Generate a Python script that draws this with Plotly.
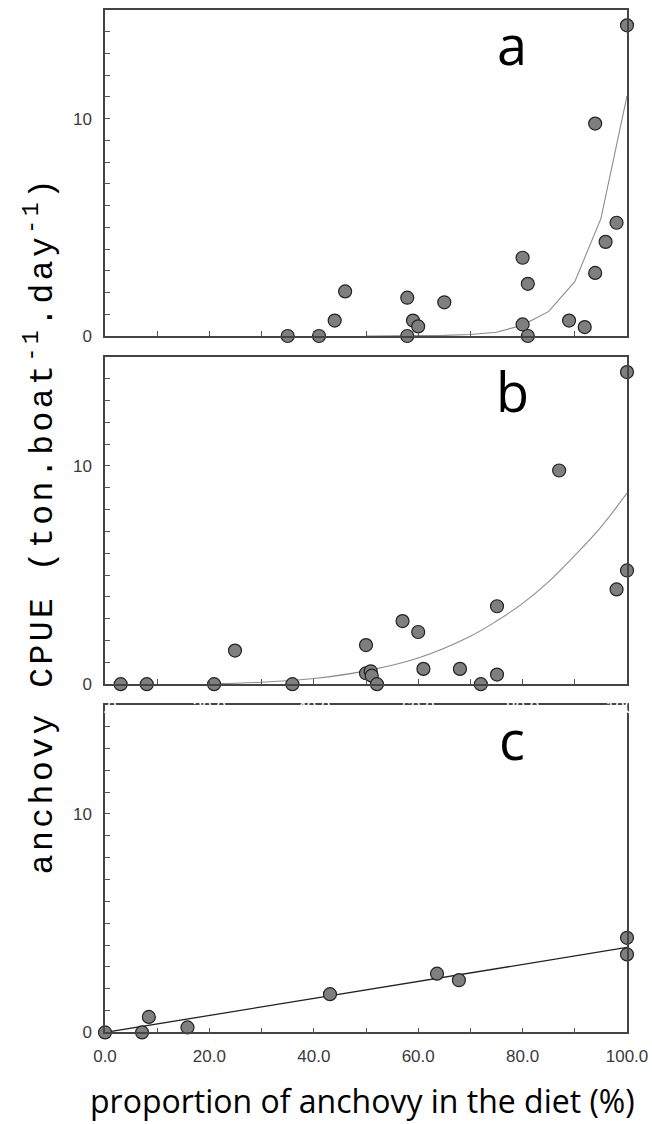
import plotly.graph_objects as go

# ---------------- data ----------------
# panel a
a_x = [35.0, 41.0, 44.0, 46.0, 57.9, 57.9, 59.0, 60.0, 65.0, 80.0, 81.0, 80.0, 81.0,
       88.9, 91.9, 93.9, 95.9, 98.0, 93.9, 100.0]
a_y = [0.0, 0.0, 0.71, 2.05, 1.76, 0.0, 0.71, 0.44, 1.55, 3.60, 2.40, 0.53, 0.0,
       0.71, 0.41, 2.90, 4.33, 5.21, 9.77, 14.29]
a_fit_x = [50, 55, 60, 65, 70, 75, 80, 85, 90, 95, 100]
a_fit_y = [0.0, 0.0, 0.01, 0.03, 0.07, 0.17, 0.50, 1.13, 2.50, 5.40, 11.05]

# panel b
b_x = [3.0, 8.0, 20.9, 24.9, 35.9, 50.0, 50.0, 50.9, 51.1, 52.1, 57.0, 60.0, 61.0,
       68.0, 72.0, 75.1, 75.1, 87.0, 98.0, 100.0, 100.0]
b_y = [0.0, 0.0, 0.0, 1.54, 0.0, 1.79, 0.50, 0.59, 0.39, 0.0, 2.89, 2.39, 0.70,
       0.70, 0.0, 3.57, 0.44, 9.79, 4.34, 5.21, 14.30]
b_fit_x = [20, 30, 40, 50, 60, 70, 75, 80, 85, 90, 95, 100]
b_fit_y = [0.02, 0.09, 0.26, 0.61, 1.20, 2.20, 2.89, 3.70, 4.70, 5.90, 7.20, 8.75]

# panel c
c_x = [0.0, 7.1, 8.4, 15.8, 43.1, 63.6, 67.8, 100.0, 100.0]
c_y = [0.0, 0.0, 0.71, 0.23, 1.75, 2.69, 2.39, 4.33, 3.57]
c_fit_x = [0, 100]
c_fit_y = [0.0, 3.89]

panel_labels = ["a", "b", "c"]
x_tick_vals = list(range(0, 101, 10))
x_tick_text = ["0.0", "", "20.0", "", "40.0", "", "60.0", "", "80.0", "", "100.0"]
y_tick_vals = list(range(0, 16))
y_tick_text = ["0"] + [""] * 9 + ["10"] + [""] * 5

x_title = "proportion of anchovy in the diet (%)"
y_title = "anchovy CPUE (ton.boat<sup>-1</sup>.day<sup>-1</sup>)"

# ---------------- figure ----------------
W, H = 652, 1124
ML, MR = 105, 25
PW = W - ML - MR


def px_to_paper_x(px):
    return (px - ML) / PW


# axis suffix per panel (panel b drawn last so its hidden white labels sit on c's frame)
suffix = ["", "3", "2"]
domains = [
    [1 - 339 / H, 1 - 10 / H],
    [1 - 690.3 / H, 1 - 360 / H],
    [1 - 1041.7 / H, 1 - 711 / H],
]
tick_colors = ["rgba(0,0,0,0)", "white", "#3a3a3a"]

fig = go.Figure()

marker = dict(size=13, color="#7f7f7f", line=dict(color="#222222", width=1.2))
panels = [
    (a_x, a_y, a_fit_x, a_fit_y, dict(color="#8c8c8c", width=1.1), "linear"),
    (b_x, b_y, b_fit_x, b_fit_y, dict(color="#8c8c8c", width=1.1), "spline"),
    (c_x, c_y, c_fit_x, c_fit_y, dict(color="#222222", width=1.3), "linear"),
]
for i, (px, py, fx, fy, lstyle, shape) in enumerate(panels):
    sfx = suffix[i]
    fig.add_trace(go.Scatter(x=fx, y=fy, mode="lines", line=dict(shape=shape, **lstyle),
                             xaxis="x" + sfx, yaxis="y" + sfx, showlegend=False,
                             hoverinfo="skip"))
    fig.add_trace(go.Scatter(x=px, y=py, mode="markers", marker=marker,
                             xaxis="x" + sfx, yaxis="y" + sfx, showlegend=False,
                             cliponaxis=False))

axis_common = dict(showline=True, mirror=True, linecolor="#444444", linewidth=1.5,
                   ticks="inside", ticklen=5, tickcolor="#555555", tickwidth=1,
                   showgrid=False, zeroline=False, fixedrange=True)

layout = dict(width=W, height=H, margin=dict(l=ML, r=MR, t=0, b=0),
              plot_bgcolor="rgba(0,0,0,0)", paper_bgcolor="white", showlegend=False)

for i in range(3):
    sfx = suffix[i]
    layout["xaxis" + sfx] = dict(
        axis_common, range=[0, 100], domain=[0, 1], anchor="y" + sfx,
        tickmode="array", tickvals=x_tick_vals, ticktext=x_tick_text,
        tickfont=dict(family="Liberation Sans, Arial", size=17, color=tick_colors[i]),
        ticklabelstandoff=7,
    )
    layout["yaxis" + sfx] = dict(
        axis_common, range=[0, 15], domain=domains[i], anchor="x" + sfx,
        tickmode="array", tickvals=y_tick_vals, ticktext=y_tick_text,
        tickfont=dict(family="Liberation Sans, Arial", size=17, color="#3a3a3a"),
        ticklabelstandoff=8,
    )

fig.update_layout(**layout)

annotations = []
for i, lab in enumerate(panel_labels):
    sfx = suffix[i]
    annotations.append(dict(
        text=lab, x=78, y=13.45, xref="x" + sfx, yref="y" + sfx,
        xanchor="center", yanchor="middle", showarrow=False,
        font=dict(family="Open Sans", size=54, color="black"),
    ))

annotations.append(dict(
    text=x_title, x=px_to_paper_x(362), y=1 - 1110 / H, xref="paper", yref="paper",
    xanchor="center", yanchor="middle", showarrow=False,
    font=dict(family="Open Sans", size=32, color="black"),
))
annotations.append(dict(
    text='<span style="letter-spacing:3.5px">' + y_title + '</span>',
    x=px_to_paper_x(40), y=1 - 530 / H, xref="paper", yref="paper",
    xanchor="center", yanchor="middle", showarrow=False, textangle=-90,
    font=dict(family="Liberation Mono", size=33, color="black"),
))
fig.update_layout(annotations=annotations)

fig.write_html("out.html")
